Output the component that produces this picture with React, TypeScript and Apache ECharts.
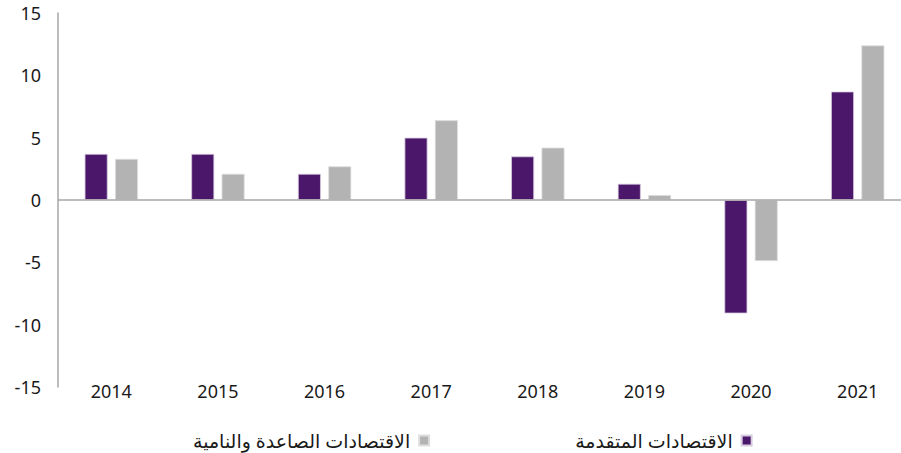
import React, { useEffect, useRef } from "react";
import * as echarts from "echarts";

const years = ["2014", "2015", "2016", "2017", "2018", "2019", "2020", "2021"];
const advanced = [3.7, 3.7, 2.1, 5.0, 3.5, 1.3, -9.1, 8.7];
const emerging = [3.3, 2.1, 2.7, 6.4, 4.2, 0.4, -4.9, 12.4];
const advancedName = "الاقتصادات المتقدمة";
const emergingName = "الاقتصادات الصاعدة والنامية";

const FONT = "'Noto Sans', 'DejaVu Sans', sans-serif";

export default function App() {
  const ref = useRef<HTMLDivElement>(null);
  useEffect(() => {
    document.body.style.margin = "0";
    const chart = echarts.init(ref.current!, undefined, { renderer: "svg" });
    chart.setOption({
      animation: false,
      textStyle: { fontFamily: FONT },
      grid: { left: 58, right: 0, top: 13, bottom: 66, containLabel: false },
      legend: {
        data: [emergingName, advancedName],
        left: 188,
        top: 426,
        align: "right",
        itemWidth: 10,
        itemHeight: 10,
        itemGap: 145,
        icon: "rect",
        textStyle: { fontSize: 19, color: "#1a1a1a", fontFamily: FONT, padding: [0, 4, 0, 0] },
      },
      xAxis: {
        type: "category",
        data: years,
        axisLine: { show: false, onZero: false },
        axisTick: { show: false },
        axisLabel: { fontSize: 18, color: "#1a1a1a", margin: -5, fontFamily: FONT },
      },
      yAxis: {
        type: "value",
        min: -15,
        max: 15,
        interval: 5,
        axisLine: { show: true, lineStyle: { color: "#a6a6a6", width: 1.5 } },
        axisTick: { show: false },
        splitLine: { show: false },
        axisLabel: { fontSize: 18, color: "#1a1a1a", margin: 17, fontFamily: FONT },
      },
      series: [
        {
          name: advancedName,
          type: "bar",
          data: advanced,
          barWidth: 23,
          barGap: "32%",
          itemStyle: { color: "#4a176a", borderColor: "#d8cce0", borderWidth: 0.8 },
          markLine: {
            silent: true,
            symbol: "none",
            label: { show: false },
            lineStyle: { color: "#a6a6a6", type: "solid", width: 1.5 },
            data: [{ yAxis: 0 }],
          },
        },
        {
          name: emergingName,
          type: "bar",
          data: emerging,
          barWidth: 23,
          barGap: "32%",
          itemStyle: { color: "#b3b3b3", borderColor: "#dedede", borderWidth: 0.8 },
        },
      ],
    });
    return () => chart.dispose();
  }, []);
  return (
    <div style={{ width: 901, height: 453, overflow: "hidden", position: "relative" }}>
      <div ref={ref} style={{ width: 911, height: 453 }} />
    </div>
  );
}
